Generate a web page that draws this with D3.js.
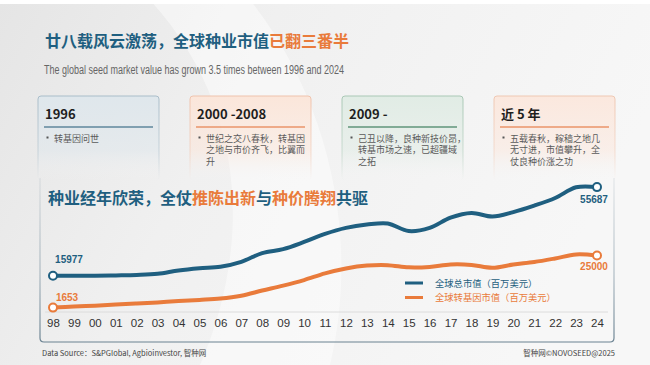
<!DOCTYPE html>
<html>
<head>
<meta charset="utf-8">
<script src="https://cdn.jsdelivr.net/npm/d3@7"></script>
<style>
  html, body { margin: 0; padding: 0; background: #f2f2f2; }
  svg { display: block; }
</style>
</head>
<body>
<svg width="650" height="365"></svg>
<script>
// data
var years = ["98","99","00","01","02","03","04","05","06","07","08","09","10","11","12","13","14","15","16","17","18","19","20","21","22","23","24"];
var totalMarket = [15977,15900,15950,16100,16300,16800,18300,19300,20000,22200,26100,27900,31100,34700,37400,38900,39400,36000,37400,42000,44100,42500,44500,47400,50800,55600,55687];
var gmMarket = [1653,2100,2500,3000,3500,4000,4600,5100,5700,7000,9300,11500,14000,17000,19200,20500,20700,19700,19900,21000,20800,19500,21000,22100,23700,25500,25000];
var seriesNames = ["全球总市值（百万美元）", "全球转基因市值（百万美元）"];
var cardTitles = ["1996", "2000 -2008", "2009 -", "近 5 年"];
var cardLines = [
  ["转基因问世"],
  ["世纪之交八春秋，转基因", "之地与市价齐飞，比翼而", "升"],
  ["己丑以降，良种新技价昂，", "转基市场之速，已超疆域", "之拓"],
  ["五载春秋，稼穑之地几", "无寸进，市值攀升，全", "仗良种价涨之功"]
];

var blue = "#1f5f80";
var orange = "#e97b3b";
var cjk = '"Noto Sans CJK SC", "Liberation Sans", sans-serif';

var svg = d3.select("svg");
var defs = svg.append("defs");

// background
var bg = defs.append("linearGradient").attr("id", "bg").attr("x1", 0).attr("x2", 1).attr("y1", 0).attr("y2", 0.3);
bg.append("stop").attr("offset", "0%").attr("stop-color", "#e5e5e5");
bg.append("stop").attr("offset", "40%").attr("stop-color", "#f0f0f0");
bg.append("stop").attr("offset", "100%").attr("stop-color", "#f7f7f7");
svg.append("rect").attr("width", 650).attr("height", 365).attr("fill", "url(#bg)");
svg.append("path")
  .attr("d", "M150,0 C250,110 250,250 200,365 L330,365 C360,240 330,100 250,0 Z")
  .attr("fill", "#ffffff").attr("opacity", 0.45);
svg.append("rect").attr("width", 650).attr("height", 4).attr("fill", "#ffffff");

// title
var title = svg.append("text")
  .attr("x", 45).attr("y", 47)
  .attr("font-family", cjk).attr("font-size", "16px").attr("font-weight", "bold");
title.append("tspan").attr("fill", blue).text("廿八载风云激荡，全球种业市值");
title.append("tspan").attr("fill", orange).text("已翻三番半");

svg.append("text")
  .attr("x", 44).attr("y", 73.5)
  .attr("font-family", '"Liberation Sans Narrow", "Liberation Sans", sans-serif')
  .attr("font-size", "12.5px").attr("fill", "#666")
  .attr("textLength", 300).attr("lengthAdjust", "spacingAndGlyphs")
  .text("The global seed market value has grown 3.5 times between 1996 and 2024");

// cards
var cardLeft = [38, 190, 342, 494];
var cardFill = ["#dfe7ec", "#fbe6da", "#e1ece5", "#fbe8de"];
var cardStroke = ["#a9bdc9", "#efc3ad", "#a9c8b5", "#efc8b3"];
var cardRule = ["#5f879d", "#ea956a", "#5f957a", "#ea956a"];

cardLeft.forEach(function (x0, i) {
  var fg = defs.append("linearGradient").attr("id", "cf" + i).attr("x1", 0).attr("x2", 0).attr("y1", 0).attr("y2", 1);
  fg.append("stop").attr("offset", "0%").attr("stop-color", cardFill[i]);
  fg.append("stop").attr("offset", "65%").attr("stop-color", cardFill[i]).attr("stop-opacity", 0.55);
  fg.append("stop").attr("offset", "100%").attr("stop-color", "#f4f4f4").attr("stop-opacity", 0);
  var sg = defs.append("linearGradient").attr("id", "cs" + i).attr("x1", 0).attr("x2", 0).attr("y1", 0).attr("y2", 1);
  sg.append("stop").attr("offset", "0%").attr("stop-color", cardStroke[i]);
  sg.append("stop").attr("offset", "70%").attr("stop-color", cardStroke[i]).attr("stop-opacity", 0.5);
  sg.append("stop").attr("offset", "100%").attr("stop-color", cardStroke[i]).attr("stop-opacity", 0);

  var g = svg.append("g").attr("transform", "translate(" + x0 + ",96)");
  g.append("rect")
    .attr("width", 121).attr("height", 84).attr("rx", 3)
    .attr("fill", "url(#cf" + i + ")")
    .attr("stroke", "url(#cs" + i + ")").attr("stroke-width", 1);
  g.append("text")
    .attr("x", 7).attr("y", 23)
    .attr("font-family", cjk).attr("font-size", "13px").attr("font-weight", "bold")
    .attr("fill", "#1e1e1e")
    .text(cardTitles[i]);
  g.append("line")
    .attr("x1", 6).attr("x2", 115).attr("y1", 31).attr("y2", 31)
    .attr("stroke", cardRule[i]).attr("stroke-width", 1.3);
  g.append("rect")
    .attr("x", 8.5).attr("y", 40.5).attr("width", 2).attr("height", 2)
    .attr("fill", "#555");
  g.selectAll(".ln")
    .data(cardLines[i])
    .enter()
    .append("text")
    .attr("class", "ln")
    .attr("x", 16)
    .attr("y", (d, j) => 45.5 + j * 11.5)
    .attr("font-family", cjk).attr("font-size", "9px").attr("fill", "#5a5a5a")
    .text((d) => d);
});

// chart frame
var fr = defs.append("linearGradient").attr("id", "fr").attr("gradientUnits", "userSpaceOnUse")
  .attr("x1", 0).attr("x2", 0).attr("y1", 175).attr("y2", 342);
fr.append("stop").attr("offset", "0%").attr("stop-color", "#7f95a3").attr("stop-opacity", 0.15);
fr.append("stop").attr("offset", "60%").attr("stop-color", "#7f95a3").attr("stop-opacity", 0.6);
fr.append("stop").attr("offset", "100%").attr("stop-color", "#6a8291").attr("stop-opacity", 1);
svg.append("path")
  .attr("d", "M40,178 L40,338 Q40,342 44,342 L610,342 Q614,342 614,338 L614,178")
  .attr("fill", "none").attr("stroke", "url(#fr)").attr("stroke-width", 1.2);

var sub = svg.append("text")
  .attr("x", 48).attr("y", 204)
  .attr("font-family", cjk).attr("font-size", "16px").attr("font-weight", "bold");
sub.append("tspan").attr("fill", blue).text("种业经年欣荣，全仗");
sub.append("tspan").attr("fill", orange).text("推陈出新");
sub.append("tspan").attr("fill", blue).text("与");
sub.append("tspan").attr("fill", orange).text("种价腾翔");
sub.append("tspan").attr("fill", blue).text("共驱");

// scales
var xScale = d3.scalePoint().domain(years).range([53, 597]);
var yScale = d3.scaleLinear().domain([0, 60000]).range([311.3, 177.5]);

svg.append("line")
  .attr("x1", 45).attr("x2", 608).attr("y1", 312).attr("y2", 312)
  .attr("stroke", "#dcdcdc").attr("stroke-width", 1);

var xAxis = svg.append("g")
  .attr("transform", "translate(0,316)")
  .call(d3.axisBottom(xScale).tickSize(0).tickPadding(3));
xAxis.select(".domain").remove();
xAxis.selectAll("text")
  .attr("font-family", '"Liberation Sans Narrow", "Liberation Sans", sans-serif')
  .attr("font-size", "11.5px").attr("fill", "#333");

var line = d3.line()
  .x((d, i) => xScale(years[i]))
  .y((d) => yScale(d))
  .curve(d3.curveCatmullRom.alpha(0.5));

var series = [totalMarket, gmMarket];
var colors = [blue, orange];

series.forEach(function (vals, k) {
  svg.append("path")
    .datum(vals)
    .attr("d", line)
    .attr("fill", "none")
    .attr("stroke", colors[k])
    .attr("stroke-width", 4)
    .attr("stroke-linecap", "round");
  var ends = [0, vals.length - 1];
  svg.selectAll(".dot" + k)
    .data(ends)
    .enter()
    .append("circle")
    .attr("cx", (i) => xScale(years[i]))
    .attr("cy", (i) => yScale(vals[i]))
    .attr("r", 4)
    .attr("fill", "#fff")
    .attr("stroke", colors[k])
    .attr("stroke-width", 2);
});

// end labels
function endLabel(vals, i, dx, dy, color) {
  svg.append("text")
    .attr("x", xScale(years[i]) + dx)
    .attr("y", yScale(vals[i]) + dy)
    .attr("text-anchor", "middle")
    .attr("font-family", '"Liberation Sans", sans-serif')
    .attr("font-size", "10px").attr("font-weight", "bold")
    .attr("fill", color)
    .text(vals[i]);
}
endLabel(totalMarket, 0, 16, -13, blue);
endLabel(gmMarket, 0, 14, -7, orange);
endLabel(totalMarket, 26, -3, 16, blue);
endLabel(gmMarket, 26, -3, 14, orange);

// legend
var legend = svg.selectAll(".legend")
  .data(seriesNames)
  .enter()
  .append("g")
  .attr("transform", (d, i) => "translate(405," + (283 + i * 14.5) + ")");
legend.append("line")
  .attr("x1", 0).attr("x2", 18)
  .attr("stroke", (d, i) => colors[i]).attr("stroke-width", 3);
legend.append("text")
  .attr("x", 30).attr("y", 3.5)
  .attr("font-family", cjk).attr("font-size", "9.3px")
  .attr("fill", (d, i) => colors[i])
  .text((d) => d);

// footer
svg.append("text")
  .attr("x", 42).attr("y", 356)
  .attr("font-family", cjk).attr("font-size", "7.5px").attr("fill", "#444")
  .text("Data Source：S&PGlobal, Agbioinvestor, 智种网");
svg.append("text")
  .attr("x", 615).attr("y", 356).attr("text-anchor", "end")
  .attr("font-family", cjk).attr("font-size", "7.5px").attr("fill", "#444")
  .text("智种网©NOVOSEED@2025");
</script>
</body>
</html>
